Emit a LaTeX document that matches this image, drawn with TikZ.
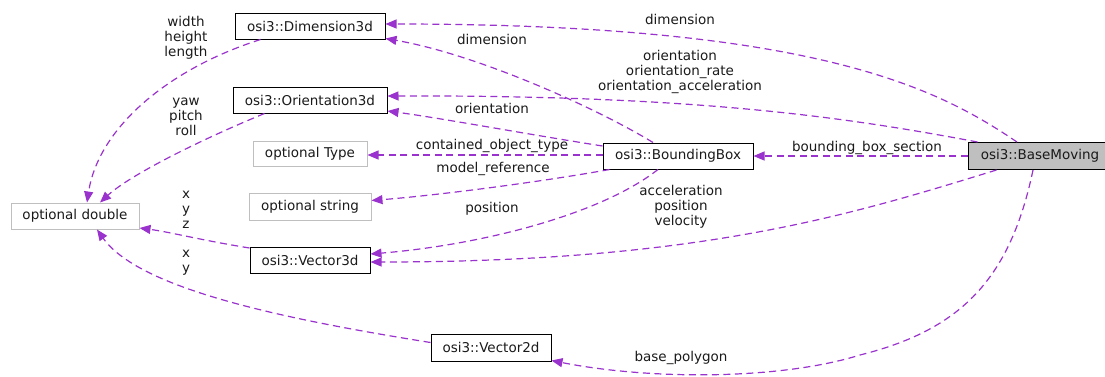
\documentclass[tikz,border=0pt]{standalone}
\usepackage{fontspec}
\setmainfont{DejaVu Sans}
\usetikzlibrary{arrows.meta,calc}
\definecolor{edgec}{HTML}{9A32CD}
\definecolor{greyb}{HTML}{BFBFBF}
\definecolor{txt}{HTML}{1A1A1A}
\begin{document}
\begin{tikzpicture}[x=1pt,y=-1pt,font=\fontsize{13.5}{15}\selectfont,text=txt,
  cls/.style={draw=black,line width=1pt,minimum height=26pt,inner sep=0pt},
  ext/.style={draw=greyb,line width=1pt,minimum height=26pt,inner sep=0pt},
  dep/.style={draw=edgec,line width=1.2pt,dash pattern=on 7pt off 4.5pt,-{Triangle[length=11pt,width=9pt]}},
  lbl/.style={align=center,inner sep=0pt}]
\useasboundingbox (0,0) rectangle (1105,376);
% nodes
\node[cls,minimum width=150pt] (dim) at (310,26) {osi3::Dimension3d};
\node[cls,minimum width=154pt] (ori) at (310,100) {osi3::Orientation3d};
\node[ext,minimum width=114pt,minimum height=25pt] (otype) at (310,154) {optional Type};
\node[ext,minimum width=122pt,minimum height=27pt] (ostr) at (310,206.5) {optional string};
\node[ext,minimum width=128pt] (odbl) at (75,216) {optional double};
\node[cls,minimum width=120pt] (v3) at (310,260) {osi3::Vector3d};
\node[cls,minimum width=120pt,minimum height=27pt] (v2) at (491,347.5) {osi3::Vector2d};
\node[cls,minimum width=150pt] (bb) at (678,156) {osi3::BoundingBox};
\node[cls,fill=greyb,minimum width=144pt,minimum height=27pt] (bm) at (1040,156) {osi3::BaseMoving};
% edges
\draw[dep] ($(bm.north)+(-23,0)$) .. controls (940,90) and (820,24) .. ($(dim.east)+(0,-2)$);
\draw[dep] ($(bb.north)+(-25,0)$) .. controls (600,110) and (480,55) .. ($(dim.south east)+(0,-1)$);
\draw[dep] ($(bm.north west)+(10,0)$) .. controls (850,118) and (700,95) .. ($(ori.east)+(0,-4)$);
\draw[dep] ($(bb.west)+(0,-1)$) -- ($(otype.east)+(0,1)$);
\draw[dep] ($(bb.west)+(0,-10)$) .. controls (520,133) and (440,118) .. ($(ori.east)+(0,11)$);
\draw[dep] ($(bb.south west)+(7,0)$) .. controls (540,182) and (440,195) .. ($(ostr.east)+(0,-6)$);
\draw[dep] ($(bb.south)+(-20,0)$) .. controls (600,215) and (480,245) .. ($(v3.east)+(0,-6)$);
\draw[dep] ($(bm.south west)+(29,0)$) .. controls (850,215) and (700,262) .. ($(v3.east)+(0,2)$);
\draw[dep] (bm.west) -- (bb.east);
\draw[dep] ($(bm.south)+(-7,0)$) .. controls (1010,280) and (960,330) .. (860,355) .. controls (780,380) and (650,380) .. ($(v2.south east)+(0,-1)$);
\draw[dep] ($(dim.south west)+(26,0)$) .. controls (165,70) and (98,130) .. ($(odbl.north)+(12,0)$);
\draw[dep] ($(ori.south west)+(32,0)$) .. controls (200,140) and (130,175) .. ($(odbl.north)+(25,0)$);
\draw[dep] ($(v3.west)+(0,-12)$) .. controls (200,240) and (170,232) .. ($(odbl.east)+(0,12)$);
\draw[dep] ($(v2.west)+(0,-5)$) .. controls (290,320) and (140,290) .. ($(odbl.south)+(22,0)$);
% labels
\node[lbl] (l1) at (680,19) {dimension};
\node[lbl] (l2) at (492,39) {dimension};
\node[lbl] (l3) at (680,72) {orientation\\orientation\_rate\\orientation\_acceleration};
\node[lbl] (l4) at (492,108) {orientation};
\node[lbl] (l5) at (492,146) {contained\_object\_type};
\node[lbl] (l6) at (493,169) {model\_reference};
\node[lbl] (l7) at (492,209) {position};
\node[lbl] (l8) at (681,207) {acceleration\\position\\velocity};
\node[lbl] (l9) at (867,148) {bounding\_box\_section};
\node[lbl] (l10) at (681,358) {base\_polygon};
\node[lbl] (l11) at (186,38) {width\\height\\length};
\node[lbl] (l12) at (186,117) {yaw\\pitch\\roll};
\node[lbl] (l13) at (186,210) {x\\y\\z};
\node[lbl] (l14) at (186,262.5) {x\\y};
\end{tikzpicture}
\end{document}
